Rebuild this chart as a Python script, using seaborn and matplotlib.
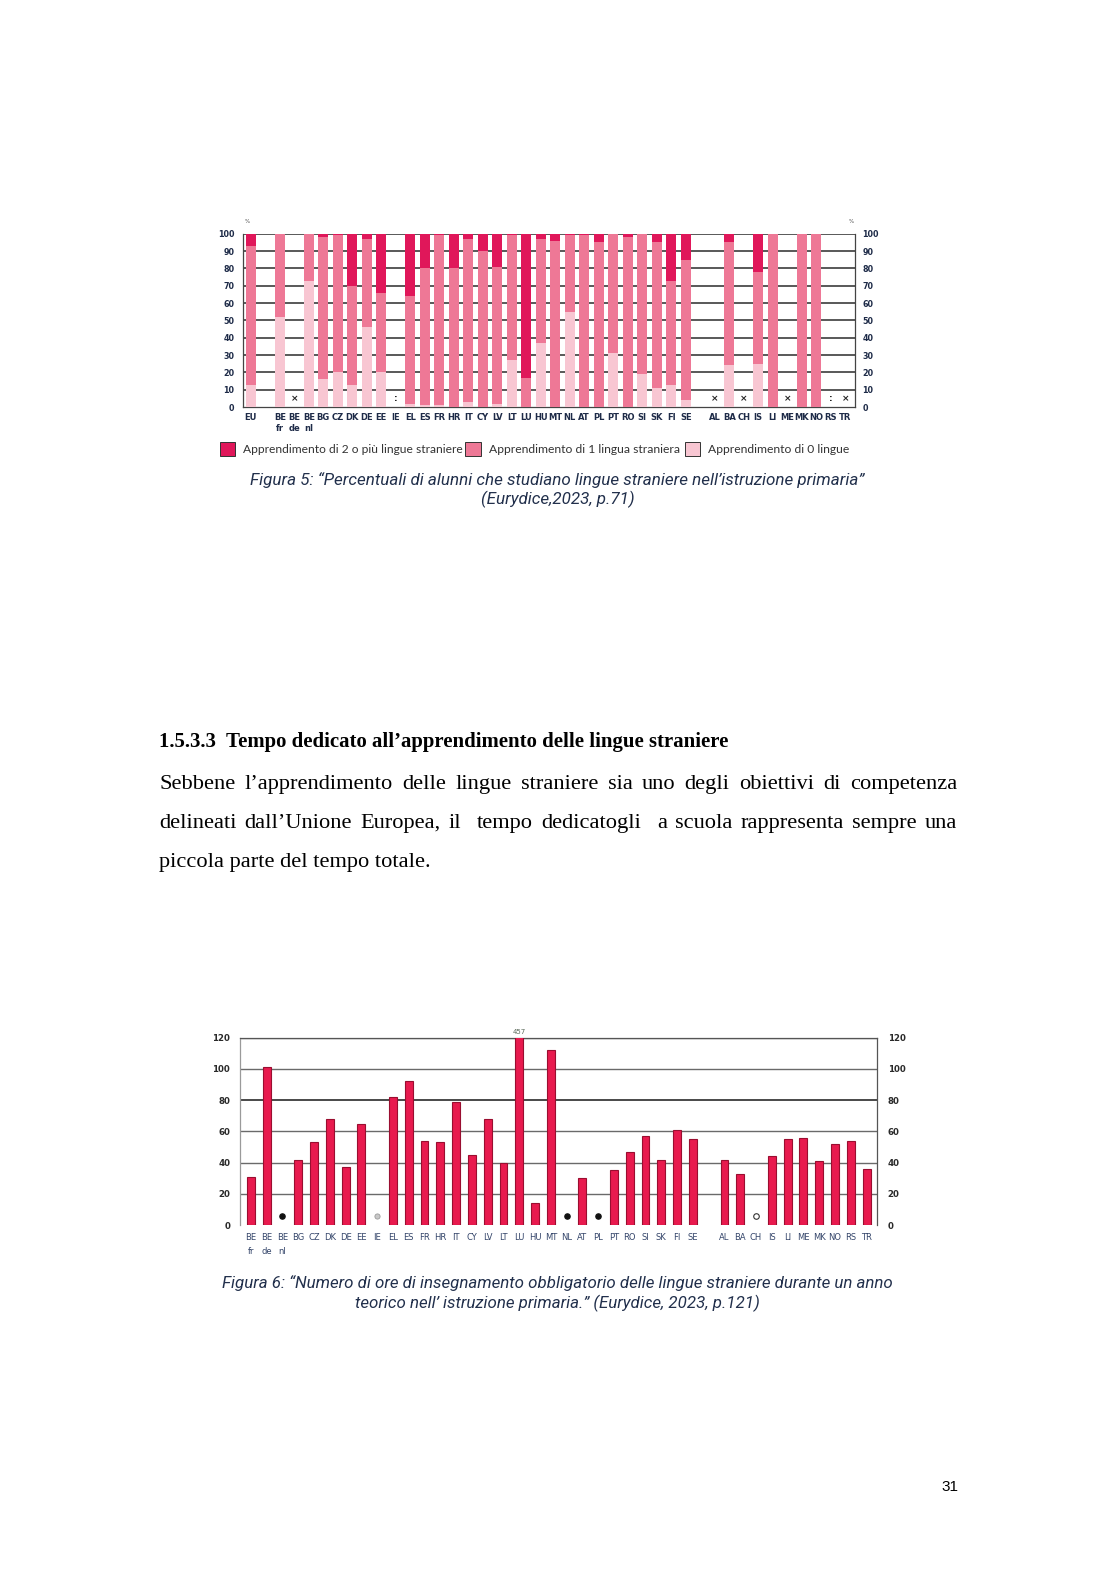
import numpy as np
import pandas as pd
import matplotlib
matplotlib.use("Agg")
import matplotlib.pyplot as plt
import seaborn as sns
from matplotlib.patches import Rectangle

# ---------------- data: figure 5 (stacked %, primary education) ----------------
labels1 = ["EU", "", "BE\nfr", "BE\nde", "BE\nnl", "BG", "CZ", "DK", "DE", "EE", "IE",
           "EL", "ES", "FR", "HR", "IT", "CY", "LV", "LT", "LU", "HU", "MT", "NL", "AT",
           "PL", "PT", "RO", "SI", "SK", "FI", "SE", "", "AL", "BA", "CH", "IS", "LI",
           "ME", "MK", "NO", "RS", "TR"]
pct_zero = [13, None, 52, None, 73, 16, 20, 13, 46, 20, None, 2, 1, 1, 0, 3, 0, 2, 27, 0,
            37, 0, 55, 0, 0, 31, 0, 19, 11, 13, 4, None, None, 24, None, 25, 0, None, 0, 0,
            None, None]
pct_one = [80, None, 48, None, 27, 82, 79, 57, 51, 46, None, 62, 79, 98, 80, 94, 90, 79, 72,
           17, 60, 96, 44, 99, 95, 69, 98, 81, 84, 60, 81, None, None, 71, None, 53, 100,
           None, 100, 100, None, None]
pct_two = [7, None, 0, None, 0, 2, 1, 30, 3, 34, None, 36, 20, 1, 20, 3, 10, 19, 1, 83, 3, 4,
           1, 1, 5, 0, 2, 0, 5, 27, 15, None, None, 5, None, 22, 0, None, 0, 0, None, None]
flags1 = {"BE\nde": "×", "IE": ":", "AL": "×", "CH": "×", "ME": "×", "RS": ":", "TR": "×"}
legend1 = ["Apprendimento di 2 o più lingue straniere",
           "Apprendimento di 1 lingua straniera",
           "Apprendimento di 0 lingue"]
yticks1 = list(range(0, 101, 10))

# ---------------- data: figure 6 (hours of compulsory FL teaching) ----------------
labels2 = ["BE\nfr", "BE\nde", "BE\nnl", "BG", "CZ", "DK", "DE", "EE", "IE", "EL", "ES", "FR",
           "HR", "IT", "CY", "LV", "LT", "LU", "HU", "MT", "NL", "AT", "PL", "PT", "RO", "SI",
           "SK", "FI", "SE", "", "AL", "BA", "CH", "IS", "LI", "ME", "MK", "NO", "RS", "TR"]
hours = [31, 101, None, 42, 53, 68, 37, 65, None, 82, 92, 54, 53, 79, 45, 68, 40, 457, 14, 112,
         None, 30, None, 35, 47, 57, 42, 61, 55, None, 42, 33, None, 44, 55, 56, 41, 52, 54, 36]
flags2 = {"BE\nnl": "dot", "IE": "grey", "NL": "dot", "PL": "dot", "CH": "open"}
yticks2 = list(range(0, 121, 20))

heading = "1.5.3.3  Tempo dedicato all’apprendimento delle lingue straniere"
body = ["Sebbene l’apprendimento delle lingue straniere sia uno degli obiettivi di competenza",
        "delineati dall’Unione Europea, il  tempo dedicatogli  a scuola rappresenta sempre una",
        "piccola parte del tempo totale."]
cap5 = ["Figura 5: “Percentuali di alunni che studiano lingue straniere nell’istruzione primaria”",
        "(Eurydice,2023, p.71)"]
cap6 = ["Figura 6: “Numero di ore di insegnamento obbligatorio delle lingue straniere durante un anno",
        "teorico nell’ istruzione primaria.” (Eurydice, 2023, p.121)"]
page_no = "31"

# ---------------- styling ----------------
W, H, DPI = 1116, 1579, 100
S = 1.0075  # layout scale
DARK, MID, LIGHT = "#E0175A", "#EE7896", "#F8C6D2"
BAR2, BAR2_EDGE = "#E81A4E", "#9A0E30"
TICKC = "#1E2B48"
CAPC = "#22304C"

sns.set_theme(style="white")
plt.rcParams["font.family"] = ["DejaVu Sans"]

fig = plt.figure(figsize=(W / DPI, H / DPI), dpi=DPI)
fig.patch.set_facecolor("white")
renderer = fig.canvas.get_renderer()


def fx(x):
    return x * S / W


def fy(y):
    return 1 - y * S / H


def axrect(l, t, r, b):
    return [l * S / W, 1 - b * S / H, (r - l) * S / W, (b - t) * S / H]


def fit_text(x, y, s, target_w, fs=12, **kw):
    t = fig.text(fx(x), fy(y), s, fontsize=fs, **kw)
    w = t.get_window_extent(renderer).width
    t.set_fontsize(fs * target_w * S / w)
    return t


def justify(x0, x1, y, line, fs, **kw):
    toks = line.split(" ")
    widths = []
    for tk in toks:
        if tk == "":
            widths.append(0.0)
            continue
        t = fig.text(0, 0, tk, fontsize=fs, **kw)
        widths.append(t.get_window_extent(renderer).width)
        t.remove()
    gap = ((x1 - x0) * S - sum(widths)) / (len(toks) - 1)
    x = x0 * S
    for tk, w in zip(toks, widths):
        if tk:
            fig.text(x / W, fy(y), tk, fontsize=fs, ha="left", va="baseline", **kw)
        x += w + gap


# ================= Figure 5 chart =================
cats1 = [lab if lab else f"_gap{i}" for i, lab in enumerate(labels1)]
df1 = pd.DataFrame({"cat": cats1, "p0": pct_zero, "p1": pct_one, "p2": pct_two}).dropna()
df1["t0"] = df1["p0"]
df1["t1"] = df1["p0"] + df1["p1"]
df1["t2"] = df1["p0"] + df1["p1"] + df1["p2"]

ax1 = fig.add_axes(axrect(241, 232, 849, 404))
for col, c in [("t2", DARK), ("t1", MID), ("t0", LIGHT)]:
    sns.barplot(data=df1, x="cat", y=col, order=cats1, color=c, saturation=1,
                width=0.72, errorbar=None, ax=ax1, zorder=3, linewidth=0)
ax1.set_ylim(0, 100)
ax1.set_xlim(-0.55, len(cats1) - 0.3)
ax1.set_xlabel("")
ax1.set_ylabel("")
ax1.set_yticks(yticks1)
ax1.set_yticklabels([str(v) for v in yticks1])
for v in yticks1[1:]:
    ax1.axhline(v, color="#2b2b2b", lw=1.1, zorder=1)
for sp in ax1.spines.values():
    sp.set_visible(True)
    sp.set_color("#444444")
    sp.set_linewidth(0.9)
ax1.spines["top"].set_visible(False)
ax1.tick_params(axis="y", length=0, pad=6, labelsize=5.8, labelcolor=TICKC)
for tl in ax1.get_yticklabels():
    tl.set_fontweight("bold")
ax1.set_xticks(range(len(cats1)))
ax1.set_xticklabels(labels1, fontsize=6.0, fontweight="bold", color=TICKC, linespacing=1.35)
ax1.tick_params(axis="x", length=0, pad=4)
ax1r = ax1.twinx()
ax1r.set_ylim(0, 100)
ax1r.set_yticks(yticks1)
ax1r.set_yticklabels([str(v) for v in yticks1])
ax1r.tick_params(axis="y", length=0, pad=5, labelsize=5.8, labelcolor=TICKC)
for tl in ax1r.get_yticklabels():
    tl.set_fontweight("bold")
for sp in ax1r.spines.values():
    sp.set_visible(False)
ax1r.grid(False)
ax1.grid(False)
for lab, sym in flags1.items():
    ax1.text(labels1.index(lab), 5, sym, ha="center", va="center", fontsize=6.5,
             fontweight="bold", color="#222222", zorder=4)
fig.text(fx(245), fy(220), "%", fontsize=4, color="#555555", ha="center", va="center")
fig.text(fx(845), fy(220), "%", fontsize=4, color="#555555", ha="center", va="center")

# legend (figure 5)
leg_sq = [(218, DARK), (462, MID), (680, LIGHT)]
leg_tx = [(241, 219), (485, 190), (703, 141)]
for (sx, c), (tx, tw), s in zip(leg_sq, leg_tx, legend1):
    fig.add_artist(Rectangle((fx(sx), fy(453)), 15 * S / W, 14 * S / H,
                             transform=fig.transFigure, facecolor=c, edgecolor="#333333",
                             linewidth=0.7))
    fit_text(tx, 446, s, tw, fs=8, family=["Lato", "DejaVu Sans"], color="#333333",
             ha="left", va="center")

# captions figure 5
t = fit_text(553, 476, cap5[0], 608, fs=10, family=["Roboto", "DejaVu Sans"], style="italic",
             color=CAPC, ha="center", va="center")
fig.text(fx(554), fy(496), cap5[1], family=["Roboto", "DejaVu Sans"], style="italic",
         color=CAPC, ha="center", va="center", fontsize=t.get_fontsize())

# ================= text block =================
fit_text(158, 741, heading, 564, fs=14, family=["Liberation Serif"], weight="bold",
         color="black", ha="left", va="baseline")
t3 = fit_text(158, 861, body[2], 270, fs=15, family=["Liberation Serif"], color="black",
              ha="left", va="baseline")
bfs = t3.get_fontsize()
justify(158, 950, 783, body[0], bfs, family=["Liberation Serif"], color="black")
justify(158, 950, 822, body[1], bfs, family=["Liberation Serif"], color="black")

# ================= Figure 6 chart =================
cats2 = [lab if lab else f"_gap{i}" for i, lab in enumerate(labels2)]
df2 = pd.DataFrame({"cat": cats2, "hours": hours}).dropna()
ax2 = fig.add_axes(axrect(238, 1030, 870, 1216))
sns.barplot(data=df2, x="cat", y="hours", order=cats2, color=BAR2, saturation=1, width=0.5,
            errorbar=None, ax=ax2, zorder=3, edgecolor=BAR2_EDGE, linewidth=0.8)
ax2.set_ylim(0, 120)
ax2.set_xlim(-0.7, len(cats2) - 0.37)
ax2.set_xlabel("")
ax2.set_ylabel("")
ax2.grid(False)
for v in yticks2[1:]:
    ax2.axhline(v, color="#3a3a3a" if v == 80 else "#6a6a6a", lw=1.3 if v == 80 else 1.0,
                zorder=1)
for sp in ax2.spines.values():
    sp.set_visible(True)
    sp.set_linewidth(0.9)
ax2.spines["left"].set_color("#9a9a9a")
ax2.spines["right"].set_color("#555555")
ax2.spines["top"].set_color("#555555")
ax2.spines["bottom"].set_visible(False)
ax2.set_yticks(yticks2)
ax2.set_yticklabels([str(v) for v in yticks2])
ax2.tick_params(axis="y", length=0, pad=7, labelsize=6.2, labelcolor="#2a2a2a")
for tl in ax2.get_yticklabels():
    tl.set_fontweight("bold")
ax2.set_xticks(range(len(cats2)))
ax2.set_xticklabels(labels2, fontsize=6.0, color="#34456A", linespacing=1.7)
ax2.tick_params(axis="x", length=0, pad=6)
ax2r = ax2.twinx()
ax2r.set_ylim(0, 120)
ax2r.set_yticks(yticks2)
ax2r.set_yticklabels([str(v) for v in yticks2])
ax2r.tick_params(axis="y", length=0, pad=8, labelsize=6.2, labelcolor="#2a2a2a")
for tl in ax2r.get_yticklabels():
    tl.set_fontweight("bold")
for sp in ax2r.spines.values():
    sp.set_visible(False)
ax2r.grid(False)
# value above the clipped LU bar
lu = labels2.index("LU")
ax2.text(lu, 121.5, str(hours[lu]), ha="center", va="bottom", fontsize=5, color="#5c6b5c",
         clip_on=False)
for lab, kind in flags2.items():
    xi = labels2.index(lab)
    if kind == "dot":
        ax2.scatter([xi], [6], s=14, color="#111111", zorder=4)
    elif kind == "grey":
        ax2.scatter([xi], [6], s=14, color="#c8c8c8", edgecolor="#9a9a9a", linewidth=0.6,
                    zorder=4)
    else:
        ax2.scatter([xi], [6], s=16, facecolor="white", edgecolor="#333333", linewidth=0.8,
                    zorder=4)

# captions figure 6
t = fit_text(553, 1273, cap6[0], 665, fs=10, family=["Roboto", "DejaVu Sans"], style="italic",
             color=CAPC, ha="center", va="center")
fig.text(fx(553), fy(1294), cap6[1], family=["Roboto", "DejaVu Sans"], style="italic",
         color=CAPC, ha="center", va="center", fontsize=t.get_fontsize())

# page number
fig.text(fx(943), fy(1476), page_no, fontsize=11, family=["Liberation Sans"], color="black",
         ha="center", va="center")

fig.savefig("out.png", dpi=DPI, facecolor="white")
